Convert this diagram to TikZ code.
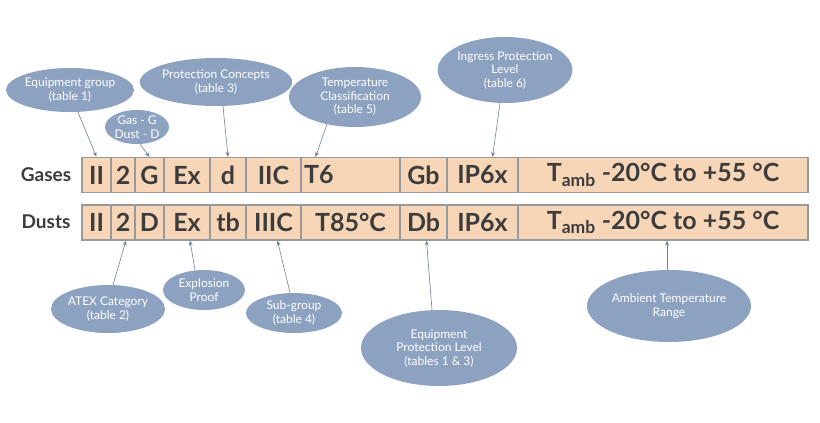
\documentclass[tikz,border=0pt]{standalone}
\usepackage{fontspec}
\setmainfont{Lato}
\usetikzlibrary{shapes.geometric,arrows.meta}
\definecolor{bub}{HTML}{8DA2C0}
\definecolor{peach}{HTML}{F7D5B7}
\definecolor{txt}{HTML}{3C3C3C}
\tikzset{
  cell/.style={draw=gray!80,line width=1.2pt,fill=peach,minimum height=35pt,inner sep=0pt,font=\fontsize{25}{27}\selectfont\bfseries,text=txt},
  bub/.style={ellipse,fill=bub,text=white,inner sep=0pt,align=center,font=\fontsize{12}{13.5}\selectfont},
  lbl/.style={font=\fontsize{19}{21}\selectfont\bfseries,text=txt},
  con/.style={draw=bub!80!black,line width=0.6pt,-{Stealth[length=5pt,width=4pt]}}
}
\begin{document}
\begin{tikzpicture}[x=1pt,y=-1pt]
\useasboundingbox[fill=white] (0,0) rectangle (820,423);
\node[lbl] (gl) at (46,175) {Gases};
\node[lbl] (dl) at (46,222) {Dusts};
% gases row
\foreach \a/\b/\t/\n in {82/111/II/g1,111/135/2/g2,135/164/G/g3,164/210/Ex/g4,210/246/d/g5,246/301/IIC/g6,400/447/Gb/g8,447/518/IP6x/g9}{
  \node[cell,minimum width={\b-\a}] (\n) at ({(\a+\b)/2},175) {\t};}
\node[cell,minimum width=99,text width=93,align=left] (g7) at (350.5,175) {T6};
\node[cell,minimum width=290] (g10) at (663,175) {T\textsubscript{amb} -20°C to +55 °C};
\foreach \a/\b/\t/\n in {82/111/II/d1,111/135/2/d2,135/164/D/d3,164/210/Ex/d4,210/246/tb/d5,246/301/IIIC/d6,301/400/T85°C/d7,400/447/Db/d8,447/518/IP6x/d9}{
  \node[cell,minimum width={\b-\a}] (\n) at ({(\a+\b)/2},222.5) {\t};}
\node[cell,minimum width=290] (d10) at (663,222.5) {T\textsubscript{amb} -20°C to +55 °C};
% bubbles
\node[bub,minimum width=120,minimum height=44] (e1) at (70,90) {Equipment group\\(table 1)};
\node[bub,minimum width=64,minimum height=34] (e2) at (137,127) {Gas - G\\Dust - D};
\node[bub,minimum width=132,minimum height=48] (e3) at (216,82) {Protection Concepts\\(table 3)};
\node[bub,minimum width=132,minimum height=60] (e4) at (355,97) {Temperature\\Classification\\(table 5)};
\node[bub,minimum width=126,minimum height=66] (e5) at (505,70) {Ingress Protection\\Level\\(table 6)};
\node[bub,minimum width=114,minimum height=48] (e6) at (108,309) {ATEX Category\\(table 2)};
\node[bub,minimum width=82,minimum height=40] (e7) at (204,290) {Explosion\\Proof};
\node[bub,minimum width=96,minimum height=40] (e8) at (294,313) {Sub-group\\(table 4)};
\node[bub,minimum width=156,minimum height=76] (e9) at (439,348) {Equipment\\Protection Level\\(tables 1 \& 3)};
\node[bub,minimum width=164,minimum height=72] (e10) at (669,306) {Ambient Temperature\\Range};
% connectors
\draw[con] (e1.south) ++(8,0) -- (g1.north);
\draw[con] (e2.south) ++(3,0) -- (g3.north);
\draw[con] (e3.south) ++(7,0) -- (g5.north);
\draw[con] (e4.south) ++(-28,-3) -- ([xshift=-35pt]g7.north);
\draw[con] (e5.south) ++(-5,0) -- ([xshift=10pt]g9.north);
\draw[con] (e6.north) ++(5,0) -- ([xshift=3pt]d2.south);
\draw[con] (e7.north) ++(-9,0) -- ([xshift=3pt]d4.south);
\draw[con] (e8.north) ++(-4,0) -- ([xshift=4pt]d6.south);
\draw[con] (e9.north) ++(-7,0) -- ([xshift=3pt]d8.south);
\draw[con] (e10.north) ++(-2,0) -- ([xshift=4pt]d10.south);
\end{tikzpicture}
\end{document}
